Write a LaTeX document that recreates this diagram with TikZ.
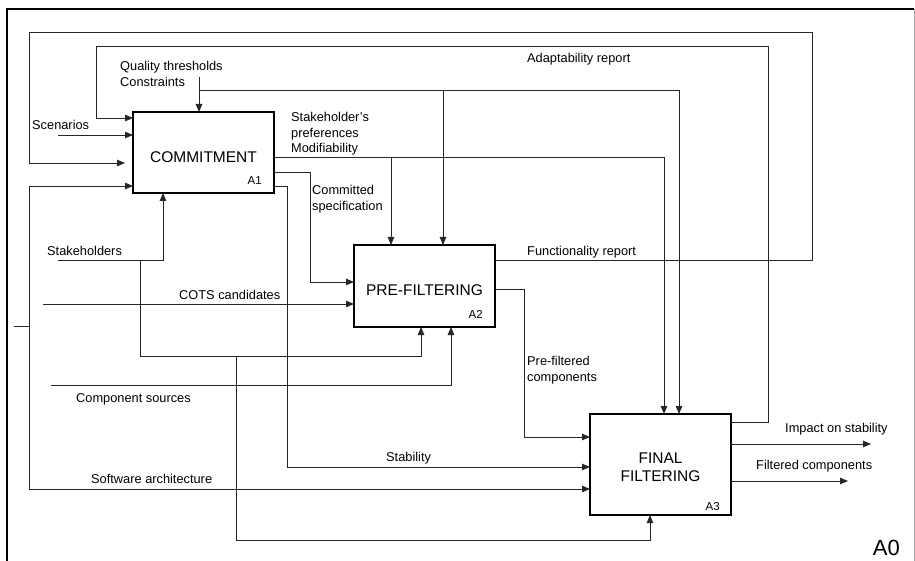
\documentclass[tikz,border=0pt]{standalone}
\usepackage{fontspec}
\setmainfont{Liberation Sans}
\usetikzlibrary{arrows.meta}
\begin{document}
\begin{tikzpicture}[x=1pt,y=-1pt,
  proc/.style={draw=black,line width=2pt,minimum width=141pt,inner sep=0pt,outer sep=0pt},
  conn/.style={draw=black!85,line width=0.9pt},
  arr/.style={conn,-{Triangle[length=8pt,width=6.5pt]}},
  lbl/.style={inner sep=0pt,anchor=base west,font=\fontsize{12.8}{15.5}\selectfont},
  ttl/.style={inner sep=0pt,anchor=base,font=\fontsize{15.5}{18.4}\selectfont},
  num/.style={inner sep=0pt,anchor=base east,font=\fontsize{11.5}{13}\selectfont}]
\useasboundingbox (0,0) rectangle (915,561);
% frame
\draw[line width=2pt] (7,565) -- (7,9) -- (914,9);
\draw[black!35,line width=1pt] (914,9) -- (914,565);
% boxes
\node[proc,minimum height=81pt] (A1) at (203.5,152.5) {};
\node[proc,minimum height=82pt] (A2) at (424.5,286) {};
\node[proc,minimum height=101pt] (A3) at (660.5,464.5) {};
\node[ttl] (A1t) at (203.5,162.5) {COMMITMENT};
\node[ttl] (A2t) at (424.5,295) {PRE-FILTERING};
\node[ttl,align=center,anchor=center] (A3t) at (660.5,467.5) {FINAL\\FILTERING};
\node[num] (A1n) at (262,185) {A1};
\node[num] (A2n) at (483,318) {A2};
\node[num] (A3n) at (720,510.5) {A3};
\node[inner sep=0pt,anchor=base east,font=\fontsize{22}{24}\selectfont] (A0) at (900,555) {A0};
% free ends
\coordinate (qt) at (199,77);
\coordinate (scen) at (58,135);
\coordinate (stk) at (58,260);
\coordinate (cots) at (43,304);
\coordinate (csrc) at (51,385);
\coordinate (sw) at (29,326);
\coordinate (swin) at (14,326);
\coordinate (impact) at (871,444);
\coordinate (filt) at (848,481);
% feedback loops
\draw[arr,shorten >=8pt] (A2.east |- 0,260) -- (812,260) -- (812,32) -- (29,32) -- (29,163) -- (A1.west |- 0,163);
\draw[arr] (A3.east |- 0,422) -- (768,422) -- (768,46) -- (96,46) -- (96,118) -- (A1.west |- 0,118);
% controls
\draw[arr] (qt) -- (qt |- A1.north);
\draw[arr] (qt |- 0,90) -- (679,90) -- (A3.north -| 679,0);
\draw[arr] (443,90) -- (A2.north -| 443,0);
\draw[arr] (A1.east |- 0,157) -- (664,157) -- (A3.north -| 664,0);
\draw[arr] (391,157) -- (A2.north -| 391,0);
% A1 outputs
\draw[arr] (A1.east |- 0,172) -- (310,172) -- (310,282) -- (A2.west |- 0,282);
\draw[arr] (A1.east |- 0,186) -- (287,186) -- (287,467) -- (A3.west |- 0,467);
% inputs
\draw[arr] (scen) -- (A1.west |- scen);
\draw[conn] (swin) -- (sw);
\draw[arr] (sw) -- (29,186) -- (A1.west |- 0,186);
\draw[arr] (sw) -- (29,489) -- (A3.west |- 0,489);
\draw[arr] (cots) -- (A2.west |- cots);
\draw[arr] (csrc) -- (451,385) -- (A2.south -| 451,0);
% mechanisms
\draw[arr] (stk) -- (163,260) -- (A1.south -| 163,0);
\draw[arr] (140,260) -- (140,356) -- (421,356) -- (A2.south -| 421,0);
\draw[arr] (236,356) -- (236,540) -- (650,540) -- (A3.south -| 650,0);
% A2 output
\draw[arr] (A2.east |- 0,289) -- (524,289) -- (524,437) -- (A3.west |- 0,437);
% A3 outputs
\draw[arr] (A3.east |- impact) -- (impact);
\draw[arr] (A3.east |- filt) -- (filt);
% labels
\node[lbl] (lq1) at (120,70.5) {Quality thresholds};
\node[lbl] (lq2) at (120,86.5) {Constraints};
\node[lbl] (lsc) at (32,130) {Scenarios};
\node[lbl] (lp1) at (291,122) {Stakeholder’s};
\node[lbl] (lp2) at (291,137.5) {preferences};
\node[lbl] (lp3) at (291,153) {Modifiability};
\node[lbl] (lc1) at (312,195) {Committed};
\node[lbl] (lc2) at (312,210.5) {specification};
\node[lbl] (lsh) at (47,255.7) {Stakeholders};
\node[lbl] (lco) at (179,299) {COTS candidates};
\node[lbl] (lcs) at (76,402.7) {Component sources};
\node[lbl] (lst) at (386,461.7) {Stability};
\node[lbl] (lsa) at (91,483) {Software architecture};
\node[lbl] (lad) at (527,63) {Adaptability report};
\node[lbl] (lfu) at (527,255.7) {Functionality report};
\node[lbl] (lpf1) at (527,365.7) {Pre-filtered};
\node[lbl] (lpf2) at (527,381) {components};
\node[lbl] (lim) at (785,432.7) {Impact on stability};
\node[lbl] (lfc) at (756,469.3) {Filtered components};
\end{tikzpicture}
\end{document}
